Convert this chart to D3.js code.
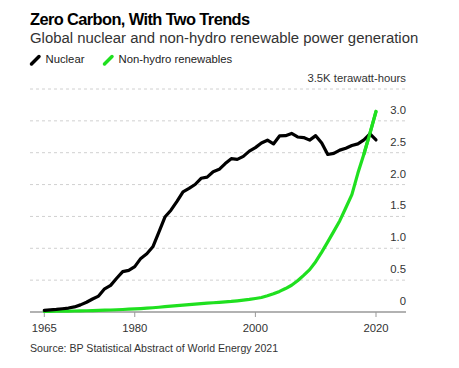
<!DOCTYPE html>
<html lang="en">
<head>
<meta charset="UTF-8">
<title>Zero Carbon, With Two Trends</title>
<script src="https://d3js.org/d3.v7.min.js"></script>
<style>
  body { margin: 0; background: #fff; }
  svg { font-family: "Liberation Sans", Arial, sans-serif; }
</style>
</head>
<body>
<script>
    // years 1965..2020
    var years = d3.range(1965, 2021);
    // TWh
    var nuclear = [26, 34, 40, 51, 62, 80, 112, 153, 204, 250,
        364, 418, 530, 634, 654, 712, 841, 913, 1023, 1253,
        1490, 1598, 1735, 1886, 1940, 2001, 2099, 2117, 2202, 2239,
        2330, 2406, 2396, 2442, 2525, 2580, 2653, 2696, 2638, 2763,
        2768, 2803, 2747, 2738, 2698, 2768, 2652, 2472, 2490, 2541,
        2571, 2612, 2639, 2701, 2796, 2700];
    var renewables = [10, 11, 12, 13, 14, 16, 18, 20, 22, 25,
        28, 31, 35, 39, 44, 49, 54, 60, 67, 75,
        84, 92, 100, 108, 117, 125, 132, 138, 145, 152,
        159, 166, 176, 186, 197, 212, 228, 254, 285, 323,
        368, 420, 491, 575, 665, 790, 940, 1100, 1265, 1433,
        1636, 1843, 2180, 2480, 2806, 3147];
    var yTicks = [0, 0.5, 1.0, 1.5, 2.0, 2.5, 3.0, 3.5];
    var xTicks = [1965, 1980, 2000, 2020];

    var width = 459, height = 368;
    var svg = d3.select('body').append('svg').attr('width', width).attr('height', height);

    var x = d3.scaleLinear().domain([1965, 2020]).range([44.3, 376]);
    var y = d3.scaleLinear().domain([0, 3.5]).range([312, 89]);
    var left = 30, right = 406;

    // titles
    svg.append('text').attr('x', 30).attr('y', 25)
        .style('font-size', '16.4px').style('font-weight', 'bold').style('letter-spacing', '-0.6px')
        .text('Zero Carbon, With Two Trends');
    svg.append('text').attr('x', 30).attr('y', 43)
        .style('font-size', '14.9px').attr('fill', '#333')
        .text('Global nuclear and non-hydro renewable power generation');

    // legend
    var legend = [{name: 'Nuclear', color: '#000', x: 30}, {name: 'Non-hydro renewables', color: '#1fe01f', x: 103}];
    legend.forEach(function (d) {
        svg.append('line').attr('x1', d.x + 1.5).attr('y1', 64).attr('x2', d.x + 9).attr('y2', 56.5)
            .attr('stroke', d.color).attr('stroke-width', 3.5).attr('stroke-linecap', 'round');
        svg.append('text').attr('x', d.x + 15.5).attr('y', 63)
            .style('font-size', '11.3px').attr('fill', '#222').text(d.name);
    });

    // gridlines
    svg.append('g').selectAll('line').data(yTicks.filter(function (d) { return d > 0; })).join('line')
        .attr('x1', left).attr('x2', right)
        .attr('y1', function (d) { return y(d); }).attr('y2', function (d) { return y(d); })
        .attr('stroke', '#d0d0d0').attr('stroke-dasharray', '3,3').attr('stroke-width', 1);

    // y labels
    svg.append('g').selectAll('text').data(yTicks).join('text')
        .attr('x', right).attr('y', function (d) { return y(d) - 7; })
        .attr('text-anchor', 'end').style('font-size', '11.3px').attr('fill', '#333')
        .text(function (d) { return d === 3.5 ? '3.5K terawatt-hours' : (d === 0 ? '0' : d.toFixed(1)); });

    // x axis
    svg.append('line').attr('x1', left).attr('x2', right).attr('y1', y(0)).attr('y2', y(0))
        .attr('stroke', '#999').attr('stroke-width', 1.5);
    var xg = svg.append('g').attr('transform', 'translate(0,' + y(0) + ')');
    xg.selectAll('line').data(xTicks).join('line')
        .attr('x1', function (d) { return x(d); }).attr('x2', function (d) { return x(d); })
        .attr('y1', 0).attr('y2', 5).attr('stroke', '#999');
    xg.selectAll('text').data(xTicks).join('text')
        .attr('x', function (d) { return x(d); }).attr('y', 20)
        .attr('text-anchor', 'middle').style('font-size', '11.3px').attr('fill', '#333')
        .text(function (d) { return d; });

    // lines
    var line = d3.line()
        .x(function (d, i) { return x(years[i]); })
        .y(function (d) { return y(d / 1000); });
    svg.append('path').datum(renewables).attr('d', line)
        .attr('fill', 'none').attr('stroke', '#1fe01f').attr('stroke-width', 3.2)
        .attr('stroke-linejoin', 'round').attr('stroke-linecap', 'round');
    svg.append('path').datum(nuclear).attr('d', line)
        .attr('fill', 'none').attr('stroke', '#000').attr('stroke-width', 3.2)
        .attr('stroke-linejoin', 'round').attr('stroke-linecap', 'round');
    // green crosses over nuclear at the end, redraw the last segment on top
    svg.append('path').datum(renewables.slice(-3)).attr('d', d3.line()
            .x(function (d, i) { return x(2018 + i); })
            .y(function (d) { return y(d / 1000); }))
        .attr('fill', 'none').attr('stroke', '#1fe01f').attr('stroke-width', 3.2)
        .attr('stroke-linecap', 'round');

    // source
    svg.append('text').attr('x', 30).attr('y', 352)
        .style('font-size', '10.6px').attr('fill', '#333')
        .text('Source: BP Statistical Abstract of World Energy 2021');
</script>
</body>
</html>
